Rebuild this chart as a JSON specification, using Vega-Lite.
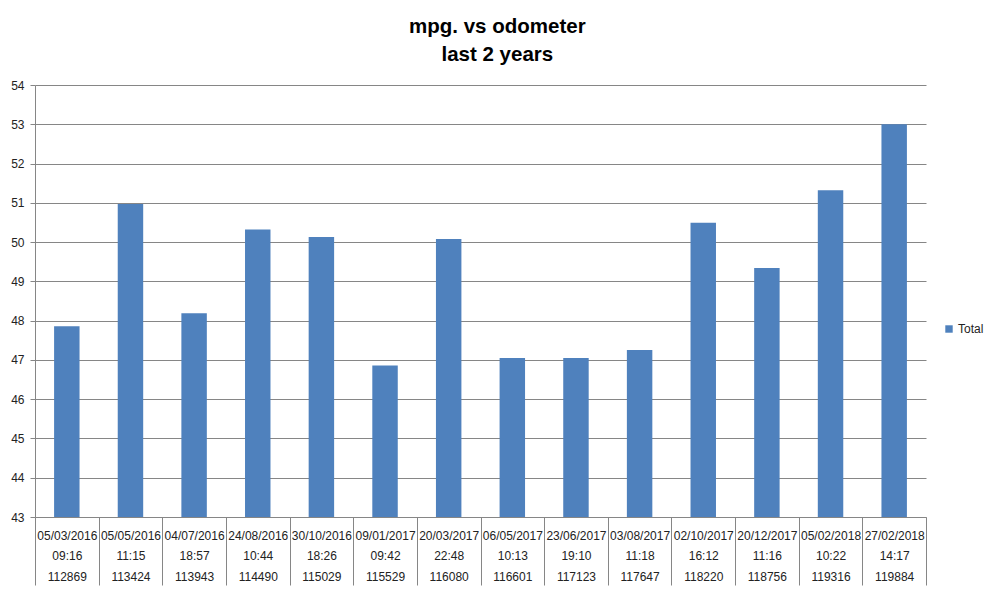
{
  "$schema": "https://vega.github.io/schema/vega-lite/v6.json",
  "autosize": "none",
  "width": 891,
  "height": 432,
  "padding": {"left": 35, "top": 85, "right": 74, "bottom": 76},
  "background": "white",
  "title": {
    "text": ["mpg. vs odometer", "last 2 years"],
    "font": "Liberation Sans",
    "fontSize": 20.5,
    "fontWeight": "bold",
    "color": "#000000",
    "lineHeight": 28,
    "anchor": "middle",
    "frame": "bounds",
    "offset": 14
  },
  "data": {
    "values": [
      {"category": "05/03/2016 09:16 112869", "mpg": 47.86, "series": "Total"},
      {"category": "05/05/2016 11:15 113424", "mpg": 50.97, "series": "Total"},
      {"category": "04/07/2016 18:57 113943", "mpg": 48.19, "series": "Total"},
      {"category": "24/08/2016 10:44 114490", "mpg": 50.32, "series": "Total"},
      {"category": "30/10/2016 18:26 115029", "mpg": 50.13, "series": "Total"},
      {"category": "09/01/2017 09:42 115529", "mpg": 46.86, "series": "Total"},
      {"category": "20/03/2017 22:48 116080", "mpg": 50.08, "series": "Total"},
      {"category": "06/05/2017 10:13 116601", "mpg": 47.05, "series": "Total"},
      {"category": "23/06/2017 19:10 117123", "mpg": 47.05, "series": "Total"},
      {"category": "03/08/2017 11:18 117647", "mpg": 47.25, "series": "Total"},
      {"category": "02/10/2017 16:12 118220", "mpg": 50.49, "series": "Total"},
      {"category": "20/12/2017 11:16 118756", "mpg": 49.34, "series": "Total"},
      {"category": "05/02/2018 10:22 119316", "mpg": 51.32, "series": "Total"},
      {"category": "27/02/2018 14:17 119884", "mpg": 53.0, "series": "Total"}
    ]
  },
  "mark": {"type": "bar", "width": {"band": 0.4}, "clip": true},
  "encoding": {
    "x": {
      "field": "category",
      "type": "nominal",
      "sort": null,
      "scale": {"paddingInner": 0, "paddingOuter": 0},
      "axis": {
        "title": null,
        "tickBand": "extent",
        "tickSize": 68,
        "tickColor": "#868686",
        "domainColor": "#868686",
        "labelAngle": 0,
        "labelPadding": -55,
        "labelBaseline": "top",
        "labelFont": "Liberation Sans",
        "labelFontSize": 12,
        "labelColor": "#222222",
        "labelLineHeight": 20.5,
        "labelOverlap": false,
        "labelBound": false,
        "labelExpr": "isValid(datum.value) ? split(datum.value,' ') : ''"
      }
    },
    "y": {
      "field": "mpg",
      "type": "quantitative",
      "scale": {"domain": [43, 54], "nice": false, "zero": false},
      "axis": {
        "title": null,
        "values": [43, 44, 45, 46, 47, 48, 49, 50, 51, 52, 53, 54],
        "tickSize": 5,
        "tickColor": "#868686",
        "domainColor": "#868686",
        "gridColor": "#868686",
        "gridOpacity": 1,
        "labelPadding": 6,
        "labelFont": "Liberation Sans",
        "labelFontSize": 12,
        "labelColor": "#222222"
      }
    },
    "color": {
      "field": "series",
      "type": "nominal",
      "scale": {"range": ["#4F81BD"]},
      "legend": {
        "title": null,
        "orient": "none",
        "legendX": 908,
        "legendY": 238,
        "symbolType": "square",
        "symbolSize": 55,
        "labelFont": "Liberation Sans",
        "labelFontSize": 12,
        "labelColor": "#222222",
        "labelOffset": 3
      }
    }
  },
  "config": {
    "view": {"stroke": null},
    "axis": {"domainWidth": 1, "tickWidth": 1, "gridWidth": 1}
  }
}
